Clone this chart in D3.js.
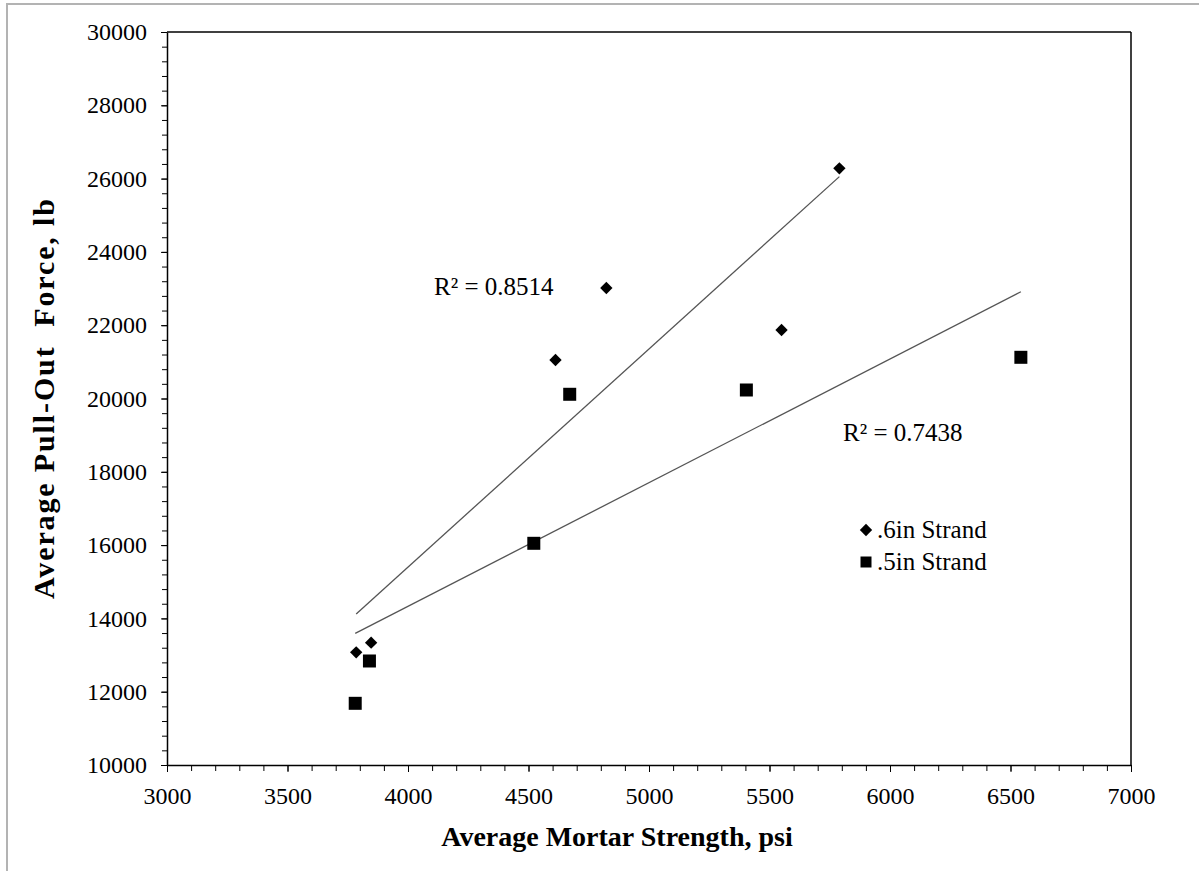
<!DOCTYPE html>
<html>
<head>
<meta charset="utf-8">
<script src="https://cdn.jsdelivr.net/npm/d3@7"></script>
<style>
  body { margin: 0; background: #fff; }
  text { font-family: "Liberation Serif", "Times New Roman", serif; fill: #000; }
  .axis path, .axis line { stroke: #000; }
  .axis text { font-family: "Liberation Serif", "Times New Roman", serif; font-size: 24px; }
</style>
</head>
<body>
<div class="chart"></div>
<script>
// data
var strand6x = [3785, 3847, 4612, 4823, 5550, 5790];
var strand6y = [13075, 13337, 21050, 23015, 21870, 26281];
var strand5x = [3781, 3840, 4522, 4671, 5404, 6543];
var strand5y = [11683, 12838, 16049, 20115, 20232, 21124];
var xTicks = [3000, 3500, 4000, 4500, 5000, 5500, 6000, 6500, 7000];
var yTicks = [10000, 12000, 14000, 16000, 18000, 20000, 22000, 24000, 26000, 28000, 30000];
var r2Labels = ["R\u00b2 = 0.8514", "R\u00b2 = 0.7438"];
var seriesNames = [".6in Strand", ".5in Strand"];

var svgWidth = 1199;
var svgHeight = 871;
var margin = { top: 32, right: 68, bottom: 106, left: 167 };
var width = svgWidth - margin.left - margin.right;
var height = svgHeight - margin.top - margin.bottom;

var svg = d3.select(".chart")
  .append("svg")
  .attr("width", svgWidth)
  .attr("height", svgHeight);

// outer frame
svg.append("rect")
  .attr("x", 7).attr("y", 4)
  .attr("width", svgWidth).attr("height", svgHeight)
  .attr("fill", "none")
  .attr("stroke", "#b3b3b3")
  .attr("stroke-width", 2);

var chartGroup = svg.append("g")
  .attr("transform", `translate(${margin.left}, ${margin.top})`);

var x = d3.scaleLinear().domain([3000, 7000]).range([0, width]);
var y = d3.scaleLinear().domain([10000, 30000]).range([height, 0]);

// minor ticks
chartGroup.append("g")
  .attr("class", "axis")
  .attr("transform", `translate(0, ${height})`)
  .call(d3.axisBottom(x).tickValues(d3.range(3000, 7001, 100)).tickSize(6).tickFormat(""))
  .call(g => g.select(".domain").remove());

chartGroup.append("g")
  .attr("class", "axis")
  .call(d3.axisLeft(y).tickValues(d3.range(10000, 30001, 400)).tickSize(5).tickFormat(""))
  .call(g => g.select(".domain").remove());

// major axes
chartGroup.append("g")
  .attr("class", "axis")
  .attr("transform", `translate(0, ${height})`)
  .call(d3.axisBottom(x).tickValues(xTicks).tickFormat(d3.format("d")).tickSize(7).tickSizeOuter(0).tickPadding(15))
  .call(g => g.select(".domain").attr("stroke-width", 1.5));

chartGroup.append("g")
  .attr("class", "axis")
  .call(d3.axisLeft(y).tickValues(yTicks).tickFormat(d3.format("d")).tickSize(6).tickSizeOuter(0).tickPadding(14))
  .call(g => g.select(".domain").attr("stroke-width", 1.5));

// top and right frame of plot area
chartGroup.append("line")
  .attr("x1", 0).attr("x2", width).attr("y1", 0).attr("y2", 0)
  .attr("stroke", "#000").attr("stroke-width", 1.5);
chartGroup.append("line")
  .attr("x1", width).attr("x2", width).attr("y1", 0).attr("y2", height)
  .attr("stroke", "#000").attr("stroke-width", 1.5);

// linear trendlines
function fit(xs, ys) {
  var mx = d3.mean(xs), my = d3.mean(ys);
  var sxy = d3.sum(xs, (v, i) => (v - mx) * (ys[i] - my));
  var sxx = d3.sum(xs, v => (v - mx) * (v - mx));
  var b = sxy / sxx;
  var a = my - b * mx;
  var x0 = d3.min(xs), x1 = d3.max(xs);
  return [[x0, a + b * x0], [x1, a + b * x1]];
}

var line = d3.line().x(d => x(d[0])).y(d => y(d[1]));

[fit(strand6x, strand6y), fit(strand5x, strand5y)].forEach(function(seg) {
  chartGroup.append("path")
    .attr("d", line(seg))
    .attr("fill", "none")
    .attr("stroke", "#555")
    .attr("stroke-width", 1.3);
});

// points
var diamond = d3.symbol().type(d3.symbolSquare).size(76);
var square = d3.symbol().type(d3.symbolSquare).size(169);

chartGroup.selectAll(".p6")
  .data(strand6x)
  .enter()
  .append("path")
  .attr("class", "p6")
  .attr("d", diamond)
  .attr("transform", (d, i) => `translate(${x(d)}, ${y(strand6y[i])}) rotate(45)`)
  .attr("fill", "#000");

chartGroup.selectAll(".p5")
  .data(strand5x)
  .enter()
  .append("path")
  .attr("class", "p5")
  .attr("d", square)
  .attr("transform", (d, i) => `translate(${x(d)}, ${y(strand5y[i])})`)
  .attr("fill", "#000");

// R² labels
chartGroup.append("text")
  .attr("x", 434 - margin.left)
  .attr("y", 295 - margin.top)
  .style("font-size", "25px")
  .text(r2Labels[0]);

chartGroup.append("text")
  .attr("x", 843 - margin.left)
  .attr("y", 441 - margin.top)
  .style("font-size", "25px")
  .text(r2Labels[1]);

// legend
var legend = chartGroup.append("g")
  .attr("transform", `translate(${866 - margin.left}, ${530 - margin.top})`);

legend.append("path")
  .attr("d", diamond)
  .attr("transform", "rotate(45)")
  .attr("fill", "#000");
legend.append("path")
  .attr("d", d3.symbol().type(d3.symbolSquare).size(121))
  .attr("transform", "translate(0, 32)")
  .attr("fill", "#000");

legend.selectAll(".ltext")
  .data(seriesNames)
  .enter()
  .append("text")
  .attr("class", "ltext")
  .attr("x", 11)
  .attr("y", (d, i) => i * 32 + 8)
  .style("font-size", "25px")
  .text(d => d);

// axis titles
svg.append("text")
  .attr("x", 617)
  .attr("y", 846)
  .attr("text-anchor", "middle")
  .style("font-size", "28px")
  .style("font-weight", "bold")
  .text("Average Mortar Strength, psi");

svg.append("text")
  .attr("transform", "translate(54, 399) rotate(-90)")
  .attr("text-anchor", "middle")
  .attr("textLength", 400)
  .attr("lengthAdjust", "spacing")
  .style("font-size", "30px")
  .style("font-weight", "bold")
  .style("white-space", "pre")
  .text("Average Pull-Out  Force, lb");
</script>
</body>
</html>
